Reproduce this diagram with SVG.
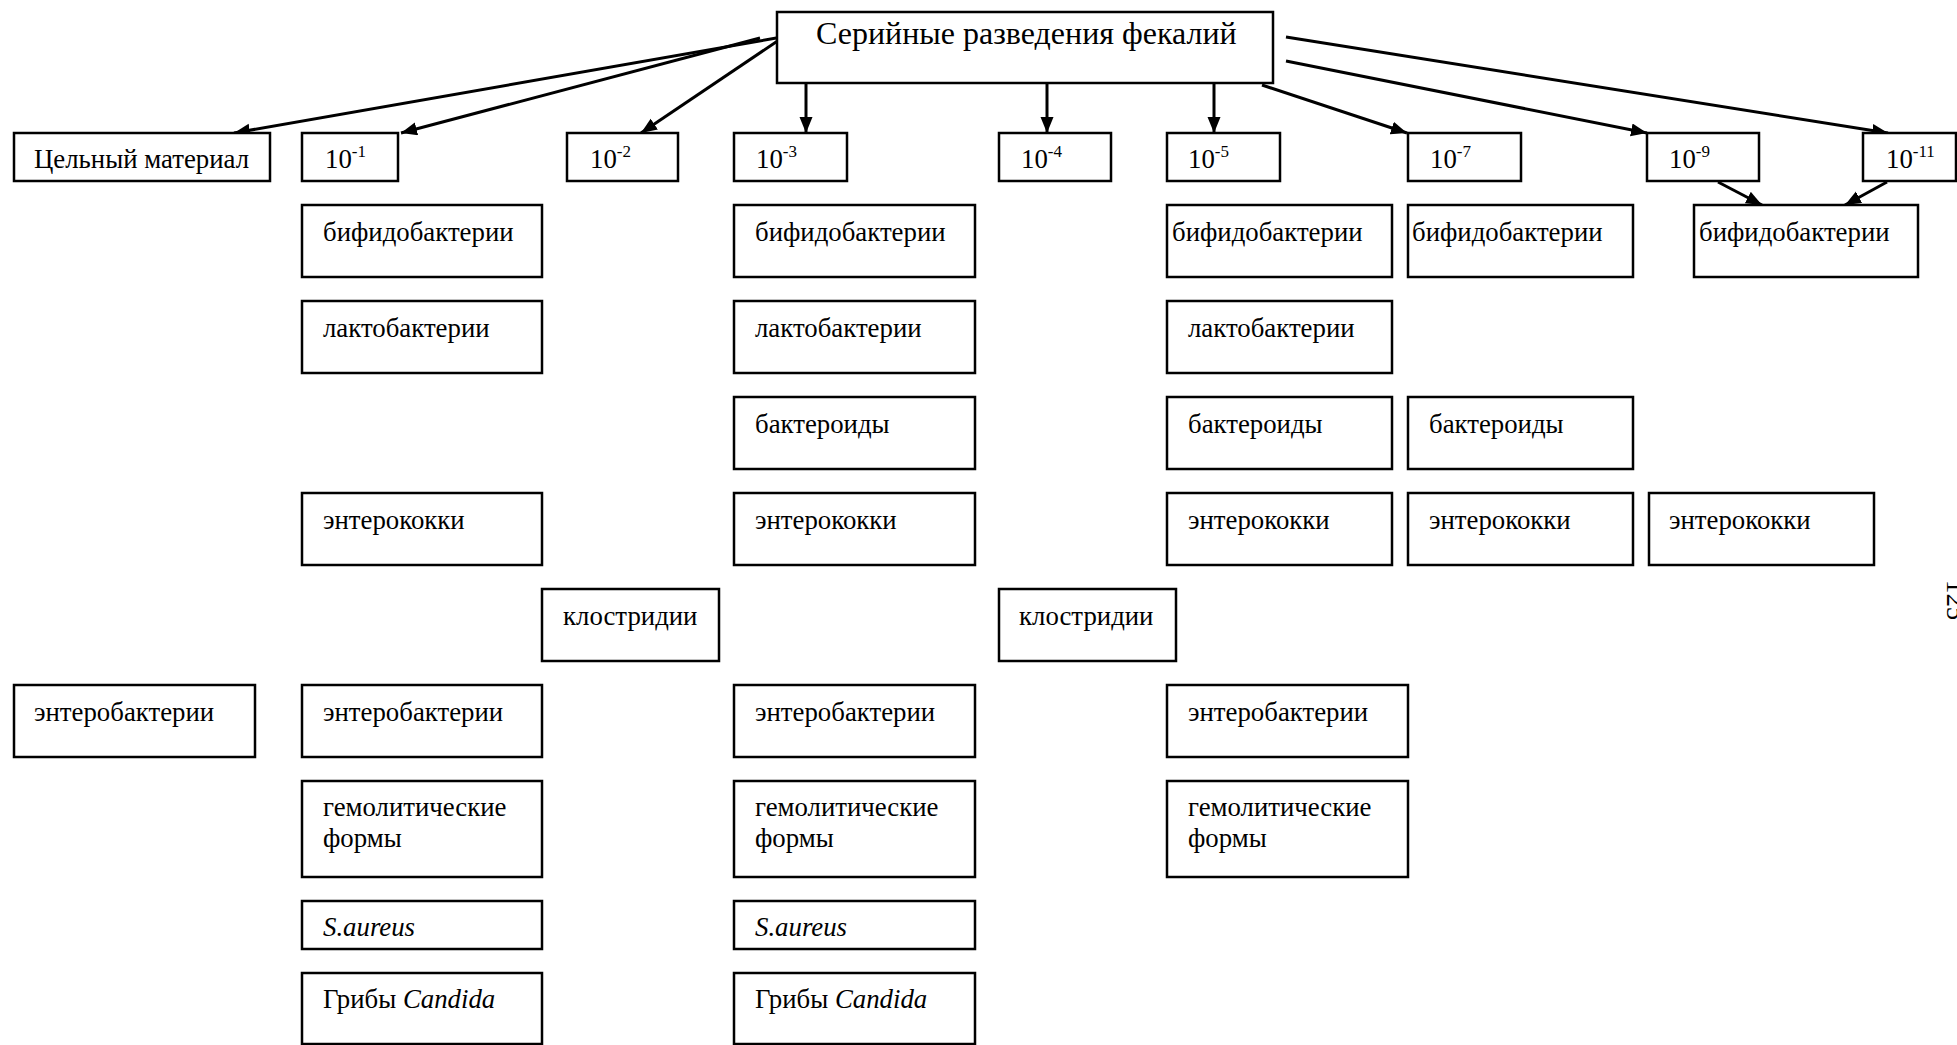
<svg xmlns="http://www.w3.org/2000/svg" width="1957" height="1045" viewBox="0 0 1957 1045">
  <style>
    .box { fill: #fff; stroke: #000; stroke-width: 2.5; }
    .t { font-family: "Liberation Serif", "DejaVu Serif", "Times New Roman", serif; font-size: 26.8px; fill: #000; }
    .title { font-size: 32px; }
    .sup { font-size: 17px; }
    .it { font-style: italic; }
    .edge { stroke: #000; stroke-width: 3; fill: none; marker-end: url(#arrow); }
  </style>
  <defs>
    <marker id="arrow" markerUnits="userSpaceOnUse" markerWidth="18" markerHeight="14" refX="16" refY="6.5" orient="auto">
      <path d="M0,0 L16,6.5 L0,13 z" fill="#000"/>
    </marker>
  </defs>
  <rect x="0" y="0" width="1957" height="1045" fill="#fff"/>

  <!-- connectors -->
  <g id="connectors">
    <line class="edge" x1="782" y1="37" x2="234" y2="133"/>
    <line class="edge" x1="760" y1="38" x2="401" y2="133"/>
    <line class="edge" x1="782" y1="38" x2="641" y2="133"/>
    <line class="edge" x1="806" y1="83" x2="806" y2="133"/>
    <line class="edge" x1="1047" y1="83" x2="1047" y2="133"/>
    <line class="edge" x1="1214" y1="83" x2="1214" y2="133"/>
    <line class="edge" x1="1262" y1="85" x2="1407" y2="133"/>
    <line class="edge" x1="1286" y1="61" x2="1647" y2="133"/>
    <line class="edge" x1="1286" y1="37" x2="1888" y2="133"/>
    <line class="edge" x1="1718" y1="182" x2="1762" y2="205"/>
    <line class="edge" x1="1887" y1="182" x2="1845" y2="205"/>
  </g>

  <!-- root -->
  <g id="root">
    <rect class="box" x="777" y="12" width="496" height="71"/>
    <text class="t title" x="816" y="44">Серийные разведения фекалий</text>
  </g>

  <!-- dilution row -->
  <g id="whole">
    <rect class="box" x="14" y="133" width="256" height="48"/>
    <text class="t" x="34" y="168">Цельный материал</text>
  </g>
  <g id="d1">
    <rect class="box" x="302" y="133" width="96" height="48"/>
    <text class="t" x="325" y="168">10<tspan class="sup" dy="-11">-1</tspan></text>
  </g>
  <g id="d2">
    <rect class="box" x="567" y="133" width="111" height="48"/>
    <text class="t" x="590" y="168">10<tspan class="sup" dy="-11">-2</tspan></text>
  </g>
  <g id="d3">
    <rect class="box" x="734" y="133" width="113" height="48"/>
    <text class="t" x="756" y="168">10<tspan class="sup" dy="-11">-3</tspan></text>
  </g>
  <g id="d4">
    <rect class="box" x="999" y="133" width="112" height="48"/>
    <text class="t" x="1021" y="168">10<tspan class="sup" dy="-11">-4</tspan></text>
  </g>
  <g id="d5">
    <rect class="box" x="1167" y="133" width="113" height="48"/>
    <text class="t" x="1188" y="168">10<tspan class="sup" dy="-11">-5</tspan></text>
  </g>
  <g id="d7">
    <rect class="box" x="1408" y="133" width="113" height="48"/>
    <text class="t" x="1430" y="168">10<tspan class="sup" dy="-11">-7</tspan></text>
  </g>
  <g id="d9">
    <rect class="box" x="1647" y="133" width="112" height="48"/>
    <text class="t" x="1669" y="168">10<tspan class="sup" dy="-11">-9</tspan></text>
  </g>
  <g id="d11">
    <rect class="box" x="1863" y="133" width="93" height="48"/>
    <text class="t" x="1886" y="168">10<tspan class="sup" dy="-11">-11</tspan></text>
  </g>

  <!-- column 10^-1 -->
  <g id="a-bifido">
    <rect class="box" x="302" y="205" width="240" height="72"/>
    <text class="t" x="323" y="241">бифидобактерии</text>
  </g>
  <g id="a-lacto">
    <rect class="box" x="302" y="301" width="240" height="72"/>
    <text class="t" x="323" y="337">лактобактерии</text>
  </g>
  <g id="a-entcoc">
    <rect class="box" x="302" y="493" width="240" height="72"/>
    <text class="t" x="323" y="529">энтерококки</text>
  </g>
  <g id="a-clostr">
    <rect class="box" x="542" y="589" width="177" height="72"/>
    <text class="t" x="563" y="625">клостридии</text>
  </g>
  <g id="a-entbac">
    <rect class="box" x="302" y="685" width="240" height="72"/>
    <text class="t" x="323" y="721">энтеробактерии</text>
  </g>
  <g id="a-hemo">
    <rect class="box" x="302" y="781" width="240" height="96"/>
    <text class="t" x="323" y="816">гемолитические</text>
    <text class="t" x="323" y="847">формы</text>
  </g>
  <g id="a-saureus">
    <rect class="box" x="302" y="901" width="240" height="48"/>
    <text class="t it" x="323" y="936">S.aureus</text>
  </g>
  <g id="a-candida">
    <rect class="box" x="302" y="973" width="240" height="71"/>
    <text class="t" x="323" y="1008">Грибы <tspan class="it">Candida</tspan></text>
  </g>

  <!-- whole material -->
  <g id="w-entbac">
    <rect class="box" x="14" y="685" width="241" height="72"/>
    <text class="t" x="34" y="721">энтеробактерии</text>
  </g>

  <!-- column 10^-3 -->
  <g id="b-bifido">
    <rect class="box" x="734" y="205" width="241" height="72"/>
    <text class="t" x="755" y="241">бифидобактерии</text>
  </g>
  <g id="b-lacto">
    <rect class="box" x="734" y="301" width="241" height="72"/>
    <text class="t" x="755" y="337">лактобактерии</text>
  </g>
  <g id="b-bacter">
    <rect class="box" x="734" y="397" width="241" height="72"/>
    <text class="t" x="755" y="433">бактероиды</text>
  </g>
  <g id="b-entcoc">
    <rect class="box" x="734" y="493" width="241" height="72"/>
    <text class="t" x="755" y="529">энтерококки</text>
  </g>
  <g id="b-entbac">
    <rect class="box" x="734" y="685" width="241" height="72"/>
    <text class="t" x="755" y="721">энтеробактерии</text>
  </g>
  <g id="b-hemo">
    <rect class="box" x="734" y="781" width="241" height="96"/>
    <text class="t" x="755" y="816">гемолитические</text>
    <text class="t" x="755" y="847">формы</text>
  </g>
  <g id="b-saureus">
    <rect class="box" x="734" y="901" width="241" height="48"/>
    <text class="t it" x="755" y="936">S.aureus</text>
  </g>
  <g id="b-candida">
    <rect class="box" x="734" y="973" width="241" height="71"/>
    <text class="t" x="755" y="1008">Грибы <tspan class="it">Candida</tspan></text>
  </g>

  <!-- column 10^-4 -->
  <g id="c4-clostr">
    <rect class="box" x="999" y="589" width="177" height="72"/>
    <text class="t" x="1019" y="625">клостридии</text>
  </g>

  <!-- column 10^-5 -->
  <g id="c-bifido">
    <rect class="box" x="1167" y="205" width="225" height="72"/>
    <text class="t" x="1172" y="241">бифидобактерии</text>
  </g>
  <g id="c-lacto">
    <rect class="box" x="1167" y="301" width="225" height="72"/>
    <text class="t" x="1188" y="337">лактобактерии</text>
  </g>
  <g id="c-bacter">
    <rect class="box" x="1167" y="397" width="225" height="72"/>
    <text class="t" x="1188" y="433">бактероиды</text>
  </g>
  <g id="c-entcoc">
    <rect class="box" x="1167" y="493" width="225" height="72"/>
    <text class="t" x="1188" y="529">энтерококки</text>
  </g>
  <g id="c-entbac">
    <rect class="box" x="1167" y="685" width="241" height="72"/>
    <text class="t" x="1188" y="721">энтеробактерии</text>
  </g>
  <g id="c-hemo">
    <rect class="box" x="1167" y="781" width="241" height="96"/>
    <text class="t" x="1188" y="816">гемолитические</text>
    <text class="t" x="1188" y="847">формы</text>
  </g>

  <!-- column 10^-7 -->
  <g id="d-bifido">
    <rect class="box" x="1408" y="205" width="225" height="72"/>
    <text class="t" x="1412" y="241">бифидобактерии</text>
  </g>
  <g id="d-bacter">
    <rect class="box" x="1408" y="397" width="225" height="72"/>
    <text class="t" x="1429" y="433">бактероиды</text>
  </g>
  <g id="d-entcoc">
    <rect class="box" x="1408" y="493" width="225" height="72"/>
    <text class="t" x="1429" y="529">энтерококки</text>
  </g>

  <!-- columns 10^-9 / 10^-11 -->
  <g id="e-bifido">
    <rect class="box" x="1694" y="205" width="224" height="72"/>
    <text class="t" x="1699" y="241">бифидобактерии</text>
  </g>
  <g id="e-entcoc">
    <rect class="box" x="1649" y="493" width="225" height="72"/>
    <text class="t" x="1669" y="529">энтерококки</text>
  </g>

  <!-- page number, printed sideways at the margin -->
  <text class="t" transform="translate(1947,580) rotate(90)">125</text>
</svg>
